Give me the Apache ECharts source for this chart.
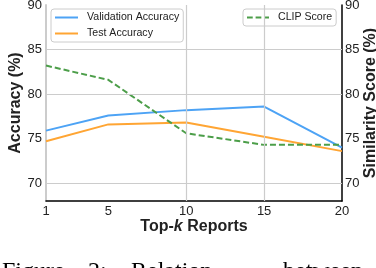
<!DOCTYPE html>
<html><head><meta charset="utf-8">
<script src="https://cdn.jsdelivr.net/npm/echarts@6/dist/echarts.min.js"></script>
<style>html,body{margin:0;padding:0;background:#fff}#c{width:376px;height:268px}</style>
</head><body><div id="c"></div>
<script>
var topK = [1, 5, 10, 15, 20];
var validationAcc = [75.9, 77.6, 78.2, 78.6, 74.0];
var testAcc = [74.7, 76.6, 76.8, 75.2, 73.6];
var clipScore = [83.2, 81.6, 75.6, 74.3, 74.3];
var xTicks = [1, 5, 10, 15, 20];
var yTicks = [70, 75, 80, 85, 90];
var xGrid = [10, 15];
var yGrid = [70, 80, 85];

var FONT = 'Liberation Sans';
function pairs(xs, ys){ return xs.map(function(x,i){ return [x, ys[i]]; }); }

var chart = echarts.init(document.getElementById('c'), null, {renderer:'canvas'});
chart.setOption({
  animation: false,
  backgroundColor: '#fff',
  textStyle: {fontFamily: FONT},
  grid: {left: 46, right: 34, top: 5, bottom: 67, containLabel: false, outerBoundsMode: 'none'},
  legend: [
    {
      data: ['Validation Accuracy', 'Test Accuracy'],
      orient: 'vertical', left: 51, top: 9,
      borderColor: '#cccccc', borderWidth: 1, borderRadius: 3,
      padding: [3, 4, 3, 4], itemGap: 5, itemWidth: 23, itemHeight: 10,
      textStyle: {fontSize: 10.6, color: '#222', fontFamily: FONT, padding: [0, 0, 0, 4]},
      icon: 'path://M0,4 L23,4 L23,6 L0,6 Z'
    },
    {
      data: [{name: 'CLIP Score', icon: 'path://M0,4 L6,4 L6,6 L0,6 Z M9,4 L15,4 L15,6 L9,6 Z M18,4 L23,4 L23,6 L18,6 Z'}],
      orient: 'vertical', left: 243, top: 9,
      borderColor: '#cccccc', borderWidth: 1, borderRadius: 3,
      padding: [3, 4, 3, 4], itemWidth: 22, itemHeight: 10,
      textStyle: {fontSize: 10.6, color: '#222', fontFamily: FONT, padding: [0, 0, 0, 4]}
    }
  ],
  xAxis: {
    type: 'value', min: 1, max: 20,
    name: '{a|Top-}{b|k}{a| Reports}', nameLocation: 'middle', nameGap: 18, nameMoveOverlap: false,
    nameTextStyle: {rich: {
      a: {fontSize: 16, fontWeight: 'bold', color: '#222', fontFamily: FONT},
      b: {fontSize: 16, fontWeight: 'bold', fontStyle: 'italic', color: '#222', fontFamily: FONT}
    }},
    axisLine: {show: true, lineStyle: {color: '#000', width: 1.5}},
    axisTick: {show: false},
    axisLabel: {customValues: xTicks, fontSize: 13, color: '#222', margin: 4},
    splitLine: {show: false}
  },
  yAxis: [
    {
      type: 'value', min: 68, max: 90, position: 'left',
      name: 'Accuracy (%)', nameLocation: 'middle', nameGap: 22, nameRotate: 90, nameMoveOverlap: false,
      nameTextStyle: {fontSize: 16, fontWeight: 'bold', color: '#222'},
      axisLine: {show: true, lineStyle: {color: '#cccccc', width: 2}},
      axisTick: {show: false},
      axisLabel: {customValues: yTicks, fontSize: 13, color: '#222', margin: 4},
      splitLine: {show: false}
    },
    {
      type: 'value', min: 68, max: 90, position: 'right',
      name: 'Similarity Score (%)', nameLocation: 'middle', nameGap: 21, nameRotate: 90, nameMoveOverlap: false,
      nameTextStyle: {fontSize: 16, fontWeight: 'bold', color: '#222'},
      axisLine: {show: true, lineStyle: {color: '#000', width: 1.5}},
      axisTick: {show: false},
      axisLabel: {customValues: yTicks, fontSize: 13, color: '#222', margin: 3},
      splitLine: {show: false}
    }
  ],
  graphic: [
    {type: 'text', left: 2, top: 260, style: {text: 'Figure', font: '24px "Liberation Serif"', fill: '#000'}},
    {type: 'text', left: 88, top: 260, style: {text: '2:', font: '24px "Liberation Serif"', fill: '#000'}},
    {type: 'text', left: 131, top: 260, style: {text: 'Relation', font: '24px "Liberation Serif"', fill: '#000'}},
    {type: 'text', left: 283, top: 260, style: {text: 'between', font: '24px "Liberation Serif"', fill: '#000'}}
  ],
  series: [
    {
      name: 'grid', type: 'line', data: [], silent: true, z: 1,
      markLine: {
        silent: true, symbol: 'none', label: {show: false},
        lineStyle: {color: '#cccccc', width: 1.2, type: 'solid'},
        data: xGrid.map(function(v){ return {xAxis: v}; }).concat(yGrid.map(function(v){ return {yAxis: v}; }))
      }
    },
    {
      name: 'Validation Accuracy', type: 'line', yAxisIndex: 0,
      data: pairs(topK, validationAcc), showSymbol: false, symbol: 'none',
      lineStyle: {color: '#4da3f5', width: 2}, itemStyle: {color: '#4da3f5'}, z: 3
    },
    {
      name: 'Test Accuracy', type: 'line', yAxisIndex: 0,
      data: pairs(topK, testAcc), showSymbol: false, symbol: 'none',
      lineStyle: {color: '#ffa533', width: 2}, itemStyle: {color: '#ffa533'}, z: 3
    },
    {
      name: 'CLIP Score', type: 'line', yAxisIndex: 1,
      data: pairs(topK, clipScore), showSymbol: false, symbol: 'none',
      lineStyle: {color: '#4c9e49', width: 2, type: [6, 3]}, itemStyle: {color: '#4c9e49'}, z: 3
    }
  ]
});
</script></body></html>
